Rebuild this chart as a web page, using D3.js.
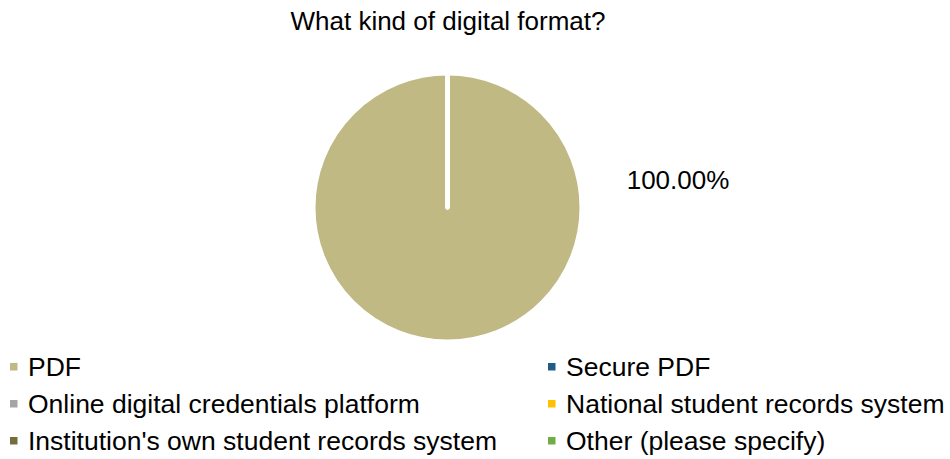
<!DOCTYPE html>
<html>
<head>
<meta charset="utf-8">
<script src="https://cdn.jsdelivr.net/npm/d3@7"></script>
<style>
  body { margin: 0; background: #fff; }
  text { font-family: "Liberation Sans", Arial, sans-serif; fill: #000; }
</style>
</head>
<body>
<div id="the_chart"></div>
<script>
var categories = ["PDF", "Secure PDF", "Online digital credentials platform",
    "National student records system", "Institution's own student records system",
    "Other (please specify)"];
var values = [100, 0, 0, 0, 0, 0];
var colors = ["#c0b984", "#1f5c87", "#a5a5a5", "#ffc000", "#776c3b", "#70ad47"];

var w = 950, h = 459;
var cx = 447.5, cy = 207.5, r = 134;

var svg = d3.select("#the_chart")
    .append("svg")
    .attr("width", w)
    .attr("height", h);

svg.append("text")
    .attr("x", 448)
    .attr("y", 30)
    .attr("text-anchor", "middle")
    .style("font-size", "26px")
    .text("What kind of digital format?");

var pie = d3.pie().sort(null).value(function (d) { return d; });
var arc = d3.arc().innerRadius(0).outerRadius(r);

var g = svg.append("g")
    .attr("transform", "translate(" + cx + "," + cy + ")");

g.selectAll("path")
    .data(pie(values))
    .enter().append("path")
    .attr("d", arc)
    .attr("fill", function (d, i) { return colors[i]; })
    .attr("stroke", "#fff")
    .attr("stroke-width", 4)
    .attr("stroke-linejoin", "round");

// data label
var total = d3.sum(values);
svg.append("text")
    .attr("x", 678)
    .attr("y", 189)
    .attr("text-anchor", "middle")
    .style("font-size", "26px")
    .text((values[0] / total * 100).toFixed(2) + "%");

// legend, two columns
var colX = [10, 548];
var rowY = [376, 413, 450];
var leg = svg.selectAll(".leg")
    .data(categories)
    .enter().append("g")
    .attr("class", "leg")
    .attr("transform", function (d, i) {
        return "translate(" + colX[i % 2] + "," + rowY[Math.floor(i / 2)] + ")";
    });

leg.append("rect")
    .attr("x", 0)
    .attr("y", -13)
    .attr("width", 7.5)
    .attr("height", 7.5)
    .attr("fill", function (d, i) { return colors[i]; });

leg.append("text")
    .attr("x", 18)
    .attr("y", 0)
    .style("font-size", "26.5px")
    .text(function (d) { return d; });
</script>
</body>
</html>
